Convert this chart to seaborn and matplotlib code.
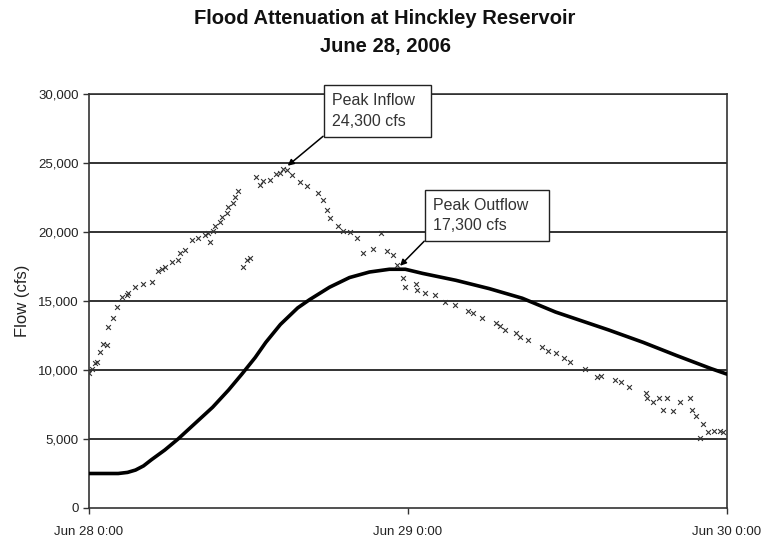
import matplotlib

matplotlib.use("Agg")
import matplotlib.pyplot as plt
import numpy as np
import pandas as pd
import seaborn as sns

# ---------------------------------------------------------------------------
# datos (horas desde Jun 28 0:00, caudal en cfs)
# ---------------------------------------------------------------------------
inflow_horas = [
    0.0, 0.23, 0.45, 0.6, 0.83, 1.05, 1.35, 1.43, 1.81, 2.1, 2.5, 2.86, 2.94,
    3.46, 4.06, 4.74, 5.19, 5.49, 5.72, 6.25, 6.7, 6.85, 7.22, 7.75, 8.2, 8.7,
    8.95, 9.1, 9.3, 9.48, 9.86, 10.0, 10.4, 10.46, 10.8, 10.99, 11.21, 11.6,
    11.9, 12.1, 12.6, 12.9, 13.1, 13.6, 14.1, 14.4, 14.6, 14.9, 15.3, 15.9,
    16.4, 17.2, 17.6, 17.9, 18.1, 18.7, 19.1, 19.6, 20.2, 20.6, 21.4, 22.0,
    22.4, 22.9, 23.2, 23.6, 23.8, 24.6, 24.7, 25.3, 26.0, 26.8, 27.5, 28.5,
    28.9, 29.6, 30.6, 30.9, 31.3, 32.1, 32.4, 33.0, 34.1, 34.5, 35.1, 35.7,
    36.2, 37.3, 38.2, 38.5, 39.6, 40.0, 40.6, 41.9, 42.0, 42.4, 42.9, 43.2,
    43.5, 43.9, 44.5, 45.2, 45.4, 45.7, 46.0, 46.2, 46.6, 47.0, 47.5, 47.7,
]
inflow_cfs = [
    9800, 10100, 10500, 10600, 11300, 11900, 11800, 13100, 13800, 14600, 15300,
    15400, 15600, 16000, 16200, 16400, 17200, 17300, 17500, 17800, 18000, 18500,
    18700, 19400, 19600, 19800, 19900, 19300, 20100, 20400, 20700, 21100, 21400,
    21800, 22100, 22500, 23000, 17500, 18000, 18100, 24000, 23400, 23700, 23800,
    24200, 24300, 24600, 24500, 24100, 23600, 23300, 22800, 22300, 21600, 21000,
    20400, 20100, 20000, 19600, 18500, 18800, 19900, 18600, 18300, 17600, 16700,
    16000, 16200, 15800, 15600, 15400, 14900, 14700, 14300, 14100, 13800, 13400,
    13200, 12900, 12700, 12400, 12200, 11700, 11400, 11200, 10900, 10600, 10100,
    9500, 9600, 9300, 9100, 8800, 8300, 8000, 7700, 8000, 7100, 8000, 7000,
    7700, 8000, 7100, 6700, 5100, 6100, 5500, 5600, 5600, 5500,
]

outflow_horas = [
    0, 2.2, 2.9, 3.5, 4.1, 4.7, 5.7, 6.7, 8.0, 9.3, 10.5, 11.5, 12.5, 13.3,
    14.4, 15.7, 16.6, 18.1, 19.6, 21.1, 22.6, 23.8, 25.1, 27.6, 30.1, 32.6,
    35.1, 39.1, 41.7, 44.2, 46.8, 48.0,
]
outflow_cfs = [
    2500, 2500, 2580, 2750, 3050, 3500, 4200, 5000, 6150, 7300, 8550, 9700,
    10900, 12000, 13300, 14500, 15100, 16000, 16700, 17100, 17300, 17300, 17000,
    16500, 15900, 15200, 14200, 12900, 12000, 11050, 10100, 9700,
]

y_ticks = [0, 5000, 10000, 15000, 20000, 25000, 30000]
x_tick_horas = [0, 24, 48]
x_tick_labels = ["Jun 28 0:00", "Jun 29 0:00", "Jun 30 0:00"]

inicio = pd.Timestamp("2006-06-28 00:00")
df_in = pd.DataFrame({
    "fecha": inicio + pd.to_timedelta(inflow_horas, unit="h"),
    "flow": inflow_cfs,
})
df_out = pd.DataFrame({
    "fecha": inicio + pd.to_timedelta(outflow_horas, unit="h"),
    "flow": outflow_cfs,
})

# ---------------------------------------------------------------------------
# figura
# ---------------------------------------------------------------------------
sns.set_theme(style="white")
plt.rcParams["font.family"] = ["Liberation Sans", "DejaVu Sans"]

W, H = 761, 541
fig = plt.figure(figsize=(W / 100, H / 100), dpi=100)
ax = fig.add_axes([89 / W, 1 - 508 / H, (727 - 89) / W, (508 - 94) / H])

for y in y_ticks[1:]:
    ax.axhline(y, color="#222222", lw=1.3, zorder=1)

sns.lineplot(data=df_out, x="fecha", y="flow", color="black", lw=2.6, ax=ax, zorder=3)
sns.scatterplot(
    data=df_in, x="fecha", y="flow", marker="x", s=12, color="#333333",
    linewidth=0.8, ax=ax, zorder=4,
)

ax.set_xlim(inicio, inicio + pd.Timedelta(hours=48))
ax.set_ylim(0, 30000)
ax.set_yticks(y_ticks)
ax.set_yticklabels([f"{v:,}" for v in y_ticks], fontsize=9.5, color="#222222")
ax.set_xticks([inicio + pd.Timedelta(hours=h) for h in x_tick_horas])
ax.set_xticklabels(x_tick_labels, fontsize=9.5, color="#222222")
ax.tick_params(axis="both", which="major", direction="out", length=4, width=1,
               color="#333333", bottom=True, left=True)
ax.tick_params(axis="x", pad=9)
ax.set_xlabel("")
ax.set_ylabel("Flow (cfs)", fontsize=12, color="#222222", labelpad=6)

for lado in ["left", "bottom", "right", "top"]:
    ax.spines[lado].set_color("#333333")
    ax.spines[lado].set_linewidth(1.2)

fig.text(0.506, 0.966, "Flood Attenuation at Hinckley Reservoir", ha="center",
         va="center", fontsize=14.5, fontweight="bold", color="#111111")
fig.text(0.506, 0.914, "June 28, 2006", ha="center", va="center",
         fontsize=14.5, fontweight="bold", color="#111111")

# anotaciones de picos
flecha = dict(arrowstyle="-|>", color="black", lw=1.1, mutation_scale=9,
              relpos=(0, 0), shrinkA=0, shrinkB=0)
caja = dict(boxstyle="square,pad=0.5", fc="white", ec="#222222", lw=1)

ax.annotate(
    "Peak Inflow  \n24,300 cfs",
    xy=(inicio + pd.Timedelta(hours=14.95), 24800),
    xytext=(inicio + pd.Timedelta(hours=18.25), 27450),
    ha="left", va="bottom", fontsize=11.5, color="#333333", linespacing=1.5,
    bbox=caja, arrowprops=flecha, annotation_clip=False, zorder=6,
)
ax.annotate(
    "Peak Outflow   \n17,300 cfs",
    xy=(inicio + pd.Timedelta(hours=23.4), 17550),
    xytext=(inicio + pd.Timedelta(hours=25.85), 19950),
    ha="left", va="bottom", fontsize=11.5, color="#333333", linespacing=1.4,
    bbox=caja, arrowprops=flecha, annotation_clip=False, zorder=6,
)

fig.savefig("out.png", dpi=100, facecolor="white")
